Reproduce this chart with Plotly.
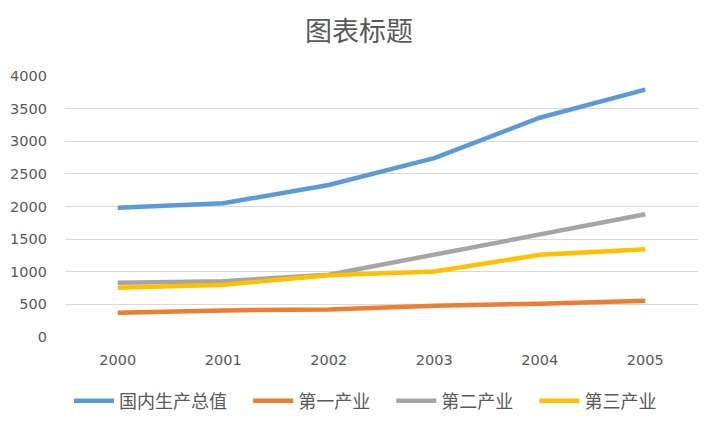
import plotly.graph_objects as go

years = ["2000", "2001", "2002", "2003", "2004", "2005"]
gdp = [1980, 2050, 2330, 2740, 3360, 3790]
primary = [370, 408, 423, 479, 510, 555]
secondary = [831, 856, 953, 1259, 1575, 1880]
tertiary = [754, 800, 948, 1004, 1259, 1345]

series = [
    ("国内生产总值", gdp, "#5B9BD5"),
    ("第一产业", primary, "#ED7D31"),
    ("第二产业", secondary, "#A5A5A5"),
    ("第三产业", tertiary, "#FFC000"),
]

fig = go.Figure()
for name, vals, color in series:
    fig.add_trace(go.Scatter(
        x=years, y=vals, name=name + "\u00a0\u00a0\u00a0\u00a0", mode="lines",
        line=dict(color=color, width=4.5),
    ))

# page body adds an 8px offset; figure sized/positioned to compensate
OFF = 8
W, H = 717 - OFF, 427 - OFF
ml, mr, mt, mb = 65 - OFF, 19, 76 - OFF, 90

fig.update_layout(
    width=W, height=H,
    margin=dict(l=ml, r=mr, t=mt, b=mb, autoexpand=False),
    paper_bgcolor="white", plot_bgcolor="white",
    font=dict(family="DejaVu Sans, Noto Sans CJK SC", color="#595959", size=14),
    title=dict(text="图表标题", x=351 / W, xanchor="center", xref="container",
               y=1 - (32 - OFF) / H, yanchor="middle", yref="container",
               font=dict(family="Noto Sans CJK SC", size=27, color="#595959")),
    xaxis=dict(type="category", range=[-0.5, 5.5], showgrid=False, zeroline=False,
               showline=False, ticks="", ticklabelstandoff=12, automargin=False,
               tickfont=dict(family="DejaVu Sans", size=14.5, color="#595959")),
    yaxis=dict(range=[0, 4000], dtick=500, showgrid=True, gridcolor="#D9D9D9",
               gridwidth=1.3, zeroline=False, showline=False, ticks="",
               ticklabelstandoff=17, automargin=False,
               tickfont=dict(family="DejaVu Sans", size=14.5, color="#595959")),
    legend=dict(orientation="h", x=0.5 + 11 / W, xanchor="center", xref="container",
                y=1 - (401 - OFF) / H, yanchor="middle", yref="container",
                font=dict(family="Noto Sans CJK SC", size=18, color="#595959"),
                itemwidth=40, tracegroupgap=0),
    showlegend=True,
)

fig.write_html("out.html")
